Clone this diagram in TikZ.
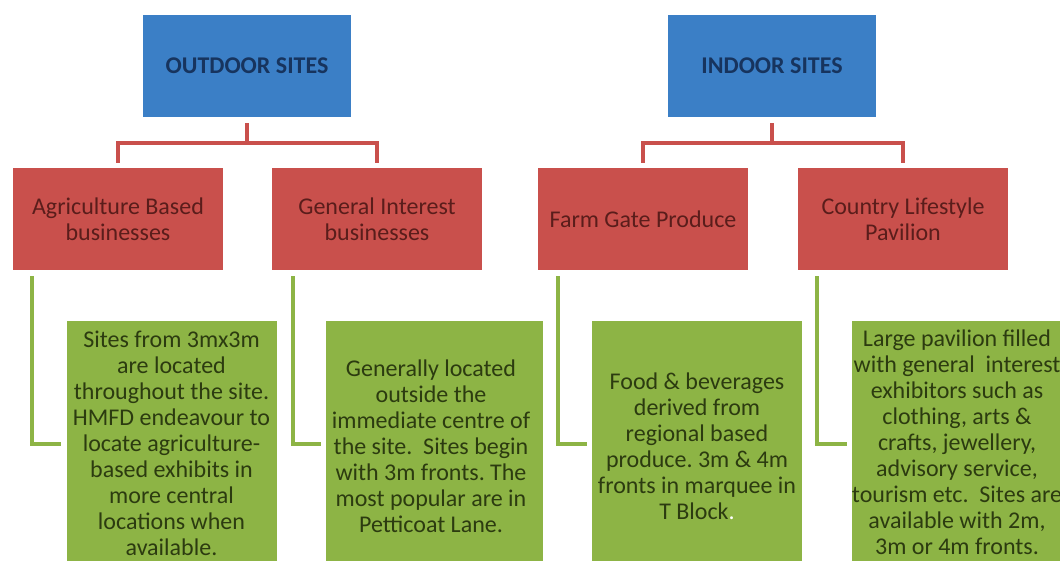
\documentclass[tikz,border=0pt]{standalone}
\usepackage{fontspec}
\setmainfont{Carlito}
\frenchspacing
\definecolor{cblue}{HTML}{3B7FC6}
\definecolor{cred}{HTML}{C9504C}
\definecolor{cgreen}{HTML}{8DB445}
\definecolor{cbluetext}{HTML}{17345E}
\definecolor{credtext}{HTML}{5A1D1B}
\definecolor{cgreentext}{HTML}{2C3B10}
\tikzset{
  txt/.style={font=\fontsize{24}{26}\selectfont, align=center, inner sep=0pt},
  bluebox/.style={fill=cblue, draw=none, minimum width=208pt, minimum height=102pt,
    txt, font=\fontsize{24}{26}\selectfont\bfseries, text=cbluetext},
  redbox/.style={fill=cred, draw=none, minimum width=210pt, minimum height=102pt,
    txt, text=credtext},
  greenbox/.style={fill=cgreen, draw=none, minimum width=210pt, minimum height=246pt, inner sep=0pt},
  greentext/.style={txt, text=cgreentext},
  redline/.style={draw=cred, line width=3.5pt},
  greenline/.style={draw=cgreen, line width=3.5pt},
}
\begin{document}
\begin{tikzpicture}[x=1pt,y=-1pt]
\useasboundingbox (0,0) rectangle (1060,560);
\fill[white] (0,0) rectangle (1060,560);
\clip (0,0) rectangle (1060,560);

% top level
\node[bluebox] (out) at (247,66) {OUTDOOR SITES};
\node[bluebox] (ind) at (772,66) {INDOOR SITES};

% second level
\node[redbox] (agri) at (118,219) {Agriculture Based\\businesses};
\node[redbox] (gen)  at (377,219) {General Interest\\businesses};
\node[redbox] (farm) at (643,219) {Farm Gate Produce};
\node[redbox] (life) at (903,219) {Country Lifestyle\\Pavilion};

\coordinate (ob) at (247,143);
\coordinate (ib) at (772,143);

\draw[redline, shorten <=6pt, shorten >=5pt] (out.south) -- (ob) -| (agri.north);
\draw[redline, shorten <=6pt, shorten >=5pt] (out.south) -- (ob) -| (gen.north);
\draw[redline, shorten <=6pt, shorten >=5pt] (ind.south) -- (ib) -| (farm.north);
\draw[redline, shorten <=6pt, shorten >=5pt] (ind.south) -- (ib) -| (life.north);

% third level boxes
\node[greenbox] (g1) at (171.5,444) {};
\node[greenbox, minimum width=217pt] (g2) at (434.5,444) {};
\node[greenbox] (g3) at (697,444) {};
\node[greenbox] (g4) at (957,444) {};

\node[greentext] (g1t) at (171.5,443) {Sites from 3mx3m\\are located\\throughout the site.\\HMFD endeavour to\\locate agriculture-\\based exhibits in\\more central\\locations when\\available.};
\node[greentext] (g2t) at (431,446) {Generally located\\outside the\\immediate centre of\\the site.\ \ Sites begin\\with 3m fronts.\ The\\most popular are in\\Petticoat Lane.};
\node[greentext] (g3t) at (697,446) {Food \& beverages\\derived from\\regional based\\produce. 3m \& 4m\\fronts in marquee in\\T Block\textcolor{white}{.}};
\node[greentext] (g4t) at (957,442) {Large pavilion filled\\with general\ \ interest\\exhibitors such as\\clothing, arts \&\\crafts, jewellery,\\advisory service,\\tourism etc.\ \ Sites are\\available with 2m,\\3m or 4m fronts.};

% green connectors
\draw[greenline, shorten <=6pt, shorten >=5pt] ([xshift=19pt]agri.south west) |- (g1.west);
\draw[greenline, shorten <=6pt, shorten >=5pt] ([xshift=21pt]gen.south west) |- (g2.west);
\draw[greenline, shorten <=6pt, shorten >=5pt] ([xshift=20pt]farm.south west) |- (g3.west);
\draw[greenline, shorten <=6pt, shorten >=5pt] ([xshift=19pt]life.south west) |- (g4.west);
\end{tikzpicture}
\end{document}
